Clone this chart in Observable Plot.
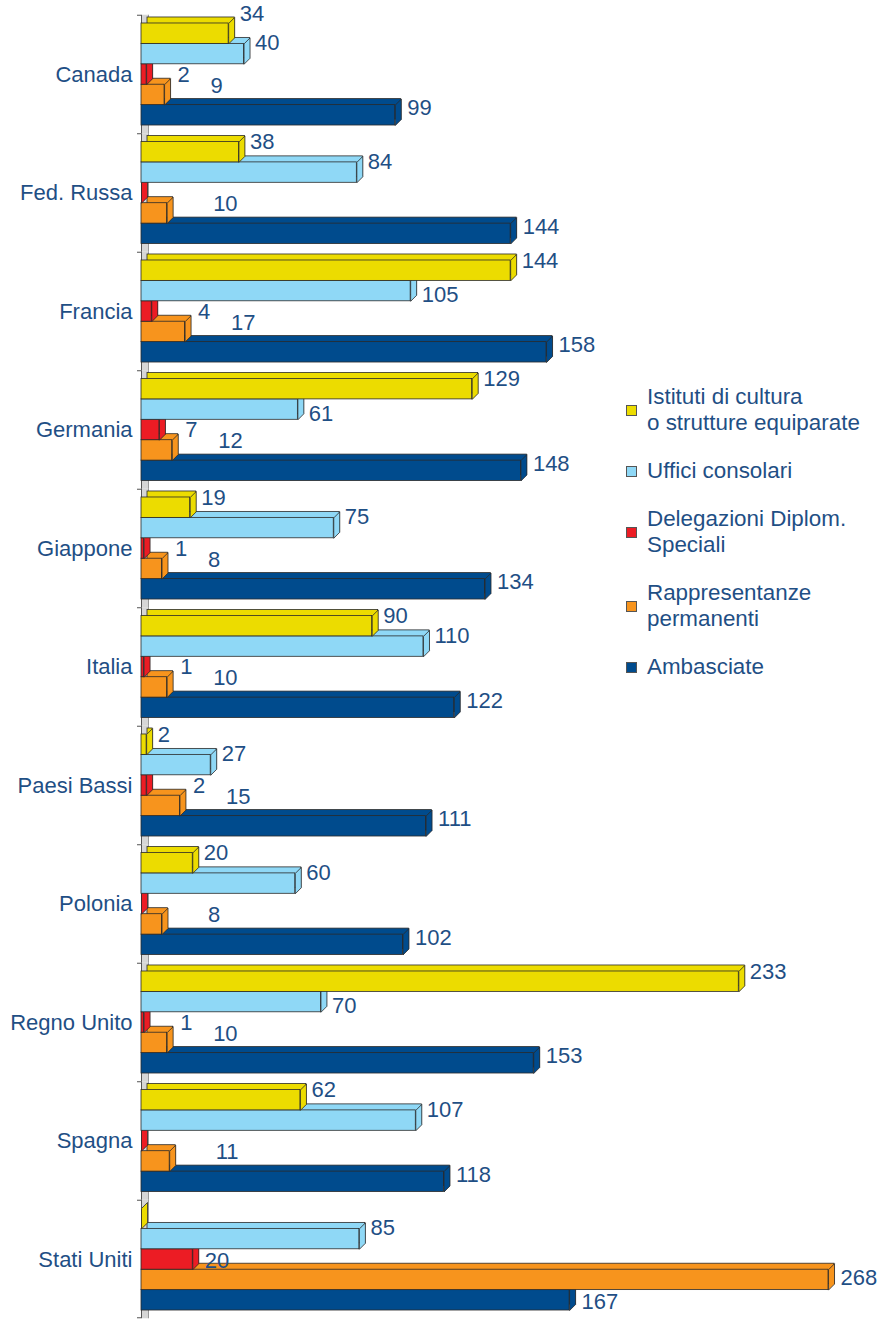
<!DOCTYPE html>
<html>
<head>
<meta charset="utf-8">
<script src="https://cdn.jsdelivr.net/npm/d3@7"></script>
<script src="https://cdn.jsdelivr.net/npm/@observablehq/plot@0.6"></script>
<style>
  html, body { margin: 0; padding: 0; background: #fff; }
  #wrap { position: relative; width: 880px; height: 1319px; overflow: hidden; font-family: "Liberation Sans", Arial, sans-serif; }
  #legend { position: absolute; left: 626px; top: 384px; display: flex; flex-direction: column; gap: 22px; color: #1f4f85; font-size: 22.4px; line-height: 26px; }
  .item { display: flex; align-items: center; }
  .sw { width: 9px; height: 9px; border: 1px solid #555; margin-right: 10px; flex: none; }
</style>
</head>
<body>
<div id="wrap">
  <div id="chart"></div>
  <div id="legend"></div>
</div>
<script>
const countries = ["Canada","Fed. Russa","Francia","Germania","Giappone","Italia","Paesi Bassi","Polonia","Regno Unito","Spagna","Stati Uniti"];
const seriesNames = ["Istituti di cultura o strutture equiparate","Uffici consolari","Delegazioni Diplom. Speciali","Rappresentanze permanenti","Ambasciate"];
const legendLines = [["Istituti di cultura","o strutture equiparate"],["Uffici consolari"],["Delegazioni Diplom.","Speciali"],["Rappresentanze","permanenti"],["Ambasciate"]];
const colors = ["#ecdc00","#8fd8f6","#ec1c24","#f7941d","#004b8d"];
const istituti       = [34, 38, 144, 129, 19, 90, 2, 20, 233, 62, 0];
const uffici         = [40, 84, 105, 61, 75, 110, 27, 60, 70, 107, 85];
const delegazioni    = [2, 0, 4, 7, 1, 1, 2, 0, 1, 0, 20];
const rappresentanze = [9, 10, 17, 12, 8, 10, 15, 8, 10, 11, 268];
const ambasciate     = [99, 144, 158, 148, 134, 122, 111, 102, 153, 118, 167];

const seriesValues = [istituti, uffici, delegazioni, rappresentanze, ambasciate];
const rows = [];
countries.forEach((c, i) => {
  seriesValues.forEach((vals, j) => {
    rows.push({
      country: c, series: seriesNames[j], j, value: vals[i],
      above: j > 0 ? seriesValues[j - 1][i] : null,
      below: j < seriesValues.length - 1 ? seriesValues[j + 1][i] : null
    });
  });
});

const TEXT = "#1f4f85";
const EDGE = "#2a2a2a";
const D = 6;           // 3D depth in px
const H = 20.4;        // bar thickness in px
const HALFGAP = 8.25;  // half gap between groups in px

const rightFace = {
  draw(ctx) {
    ctx.moveTo(0, -H / 2);
    ctx.lineTo(D, -H / 2 - D);
    ctx.lineTo(D, H / 2 - D);
    ctx.lineTo(0, H / 2);
    ctx.closePath();
  }
};

const marks = [];
// wall (value-axis floor)
marks.push(Plot.ruleX([0], {stroke: "#d6d6d6", strokeWidth: 7, dx: 3.5, insetTop: -HALFGAP, insetBottom: -HALFGAP}));
marks.push(Plot.ruleX([0], {stroke: "#555", strokeWidth: 1, insetTop: -HALFGAP, insetBottom: -HALFGAP}));
marks.push(Plot.ruleX([0], {stroke: "#999", strokeWidth: 1, dx: 7, insetTop: -HALFGAP, insetBottom: -HALFGAP}));
// tick marks at group boundaries
marks.push(Plot.barX(countries, {fy: d => d, y: () => seriesNames[0], x1: 0, x2: 0, insetLeft: -4, insetTop: -HALFGAP, insetBottom: H + HALFGAP - 1, fill: "#555"}));
marks.push(Plot.barX(countries.slice(-1), {fy: d => d, y: () => seriesNames[4], x1: 0, x2: 0, insetLeft: -4, insetTop: H + HALFGAP - 1, insetBottom: -HALFGAP, fill: "#555"}));

// bars: draw from bottom series to top series so upper bars cover lower ones
for (let j = seriesNames.length - 1; j >= 0; j--) {
  const f = d => d.j === j;
  marks.push(Plot.barX(rows, {filter: f, fy: "country", y: "series", x1: 0, x2: "value", fill: colors[j], stroke: EDGE, strokeWidth: 0.8, dx: D, dy: -D}));
  marks.push(Plot.barX(rows, {filter: f, fy: "country", y: "series", x1: 0, x2: "value", fill: colors[j], stroke: EDGE, strokeWidth: 0.8}));
  marks.push(Plot.dot(rows, {filter: f, fy: "country", y: "series", x: "value", r: 4, symbol: rightFace, fill: colors[j], stroke: EDGE, strokeWidth: 0.8}));
}

// value labels
const lbl = (filter, dx, dy, x = "value") => Plot.text(rows, {filter, fy: "country", y: "series", x, text: d => String(d.value), textAnchor: "start", dx, dy, fill: TEXT, fontSize: 22});
const crowded = d => d.below > d.value && d.below - d.value < 10;
marks.push(lbl(d => d.j === 0 && d.value > 0 && !crowded(d), 11, -10));
marks.push(lbl(d => d.j === 0 && d.value > 0 && crowded(d), 11, -20));
marks.push(lbl(d => d.j === 1 && d.value > 0 && d.above <= d.value, 11, -11));
marks.push(lbl(d => d.j === 1 && d.value > 0 && d.above > d.value, 11, 4));
marks.push(lbl(d => d.j === 2 && d.value > 0 && d.value < 10, 13, 0, d => Math.max(d.value, d.below)));
marks.push(lbl(d => d.j === 2 && d.value >= 10, 12, 1));
marks.push(lbl(d => d.j === 3 && d.value > 0 && d.value < 100, 46, -9));
marks.push(lbl(d => d.j === 3 && d.value >= 100, 12, -2));
marks.push(lbl(d => d.j === 4 && d.value > 0 && d.above <= d.value, 12, -7));
marks.push(lbl(d => d.j === 4 && d.value > 0 && d.above > d.value, 12, 2));

const chart = Plot.plot({
  width: 880,
  height: 1319,
  marginLeft: 141,
  marginRight: 8.4,
  marginTop: 14.75,
  marginBottom: 0.75,
  style: {fontFamily: "'Liberation Sans', Arial, sans-serif", fontSize: "22px", color: TEXT, background: "#fff"},
  x: {domain: [0, 285], axis: null},
  y: {domain: seriesNames, axis: null, padding: 0, round: false},
  fy: {domain: countries, paddingInner: 0.139, paddingOuter: 0.0695, round: false, axis: "left", label: null, tickSize: 0, tickPadding: 9},
  marks
});
document.getElementById("chart").appendChild(chart);

const legend = document.getElementById("legend");
legendLines.forEach((lines, j) => {
  const item = document.createElement("div");
  item.className = "item";
  const sw = document.createElement("div");
  sw.className = "sw";
  sw.style.background = colors[j];
  const txt = document.createElement("div");
  txt.innerHTML = lines.join("<br>");
  item.appendChild(sw);
  item.appendChild(txt);
  legend.appendChild(item);
});
</script>
</body>
</html>
